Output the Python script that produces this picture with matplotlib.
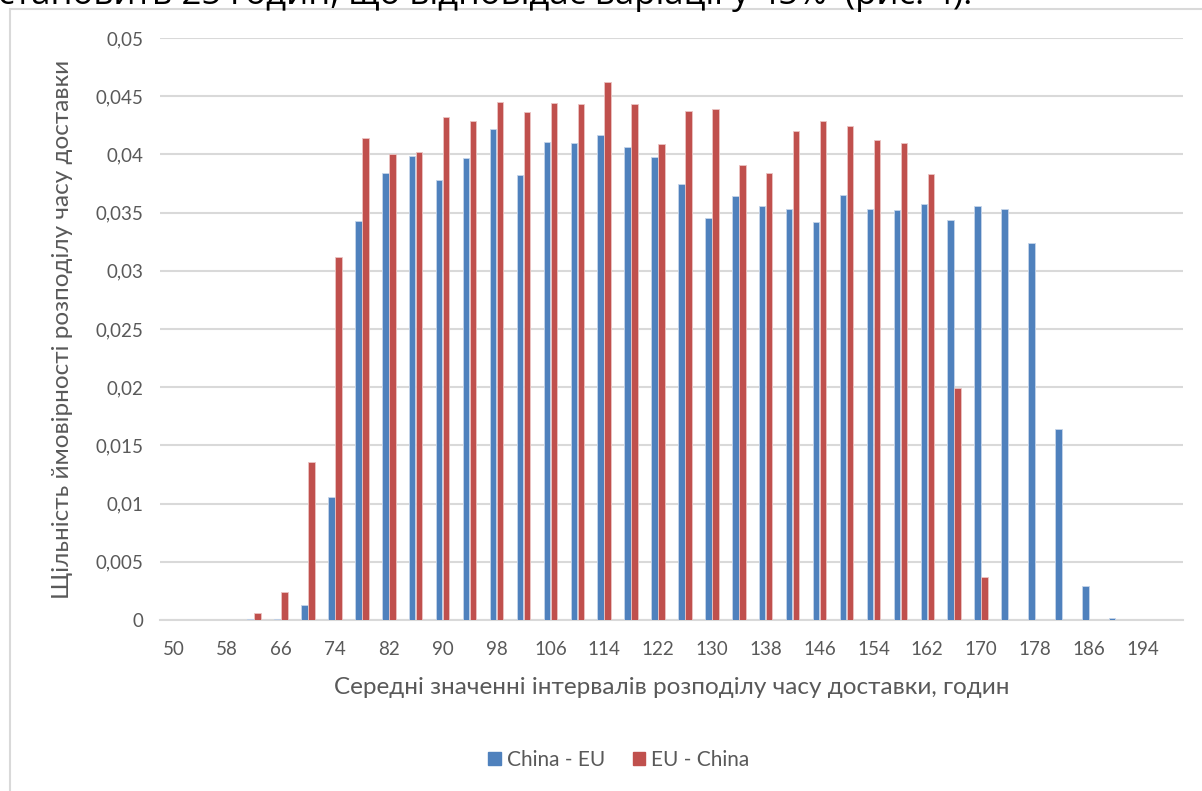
import matplotlib
matplotlib.use("Agg")
import matplotlib.pyplot as plt
import numpy as np
from matplotlib.patches import Rectangle

plt.rcParams['font.family'] = ['Lato', 'DejaVu Sans']

categories = list(range(50, 199, 4))
china_eu = [0, 0, 0, 0.0001, 0.0001, 0.0013, 0.0106, 0.0343, 0.0384, 0.0399,
            0.0378, 0.0397, 0.0422, 0.0382, 0.0411, 0.0410, 0.0417, 0.0406, 0.0398, 0.0375,
            0.0345, 0.0364, 0.0356, 0.0353, 0.0342, 0.0365, 0.0353, 0.0352, 0.0357, 0.0344,
            0.0356, 0.0353, 0.0324, 0.0164, 0.0029, 0.0002, 0, 0]
eu_china = [0, 0, 0, 0.0006, 0.0024, 0.0136, 0.0312, 0.0414, 0.0400, 0.0402,
            0.0432, 0.0429, 0.0445, 0.0436, 0.0444, 0.0443, 0.0462, 0.0443, 0.0409, 0.0437,
            0.0439, 0.0391, 0.0384, 0.0420, 0.0429, 0.0424, 0.0412, 0.0410, 0.0383, 0.0199,
            0.0037, 0, 0, 0, 0, 0, 0, 0]
y_ticks = [0, 0.005, 0.01, 0.015, 0.02, 0.025, 0.03, 0.035, 0.04, 0.045, 0.05]

W, H = 1202, 791
fig = plt.figure(figsize=(W/100, H/100), dpi=100)

# chart frame
fig.add_artist(Rectangle((10/W, -0.05), 1.2, (H-9)/H + 0.05, transform=fig.transFigure,
                         fill=False, edgecolor='#D9D9D9', linewidth=1.5))
# cut-off text above the chart
fig.text(-2/W, 1 - 4/H, "становить 25 годин, що відповідає варіації у 45%  (рис. 4).",
         fontsize=25, color='black', ha='left', va='baseline', family=['Open Sans', 'DejaVu Sans'])

left, right, top, bottom = 160, 1183, 38, 620
ax = fig.add_axes([left/W, 1 - bottom/H, (right-left)/W, (bottom-top)/H])
x = np.arange(len(categories))
bw = 0.24
ax.bar(x - 0.13, china_eu, bw, color='#4F81BD', edgecolor='#C6D5EA', linewidth=0.6, zorder=3)
ax.bar(x + 0.13, eu_china, bw, color='#C0504D', edgecolor='#EBC4C3', linewidth=0.6, zorder=3)

ax.set_xlim(-0.5, len(categories) - 0.5)
ax.set_ylim(0, 0.05)
ax.set_yticks(y_ticks)
ax.set_yticklabels([('%g' % v).replace('.', ',') for v in y_ticks])
ax.set_xticks(x[::2])
ax.set_xticklabels([str(c) for c in categories[::2]])
ax.tick_params(length=0, labelsize=13.5, colors='#595959')
ax.tick_params(axis='y', pad=12)
ax.tick_params(axis='x', pad=15)
ax.grid(axis='y', color='#D9D9D9', linewidth=1.5, zorder=0)
for s in ['top', 'right', 'left']:
    ax.spines[s].set_visible(False)
ax.spines['bottom'].set_color('#D9D9D9')
ax.spines['bottom'].set_linewidth(1.5)
ax.set_axisbelow(True)

ax.set_ylabel("Щільність ймовірності розподілу часу доставки", fontsize=17.5, color='#595959', labelpad=16)
ax.set_xlabel("Середні значенні інтервалів розподілу часу доставки, годин", fontsize=17.5, color='#595959', labelpad=14)

handles = [Rectangle((0, 0), 1, 1, color='#4F81BD'), Rectangle((0, 0), 1, 1, color='#C0504D')]
fig.legend(handles, ['China - EU', 'EU - China'], loc='center', bbox_to_anchor=(619/W, 1 - 760/H),
           ncol=2, frameon=False, fontsize=15, labelcolor='#595959', handlelength=0.6, handleheight=0.6,
           handletextpad=0.3, columnspacing=1.3)

fig.savefig('out.png', dpi=100)
